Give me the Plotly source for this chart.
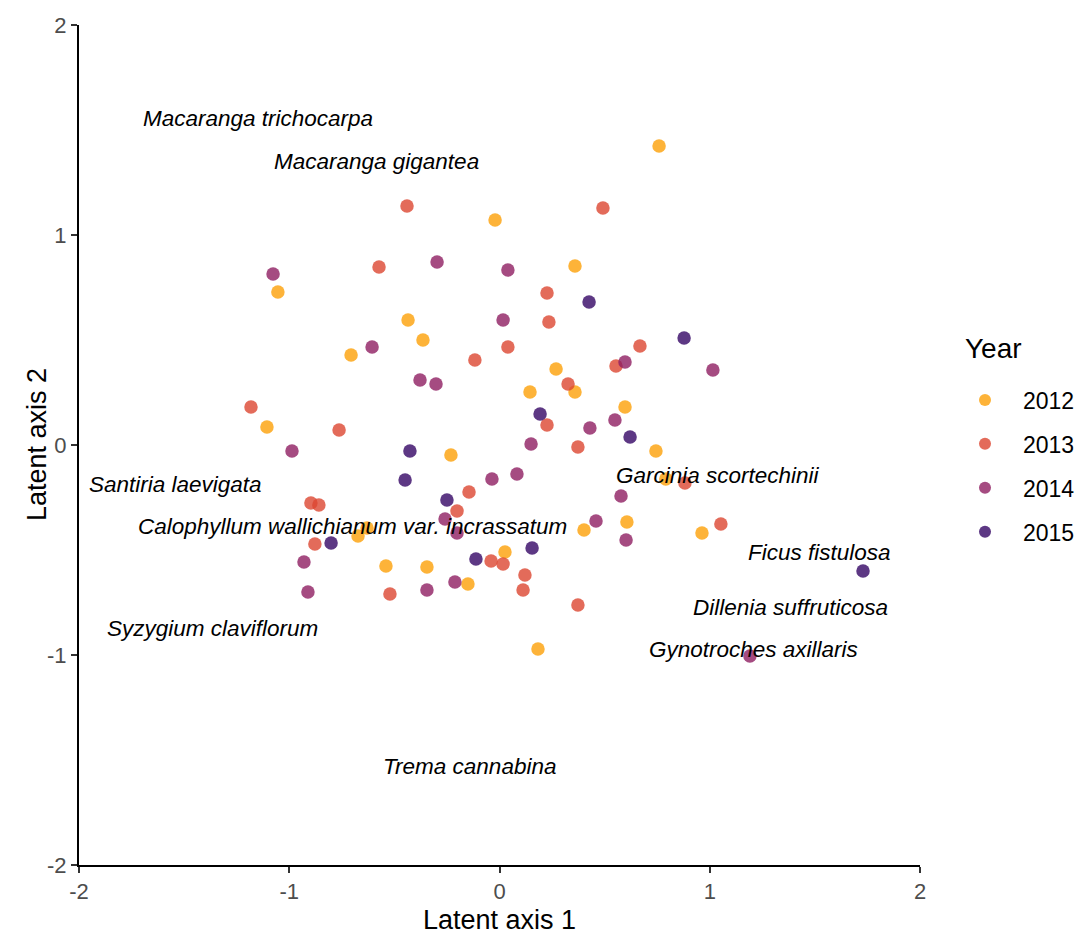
import plotly.graph_objects as go

# ---- data ----
years = ["2012", "2013", "2014", "2015"]

x_2012 = [0.759, -0.021, 0.359, -1.054, -0.435, -0.364, -0.706, 0.269, 0.145, 0.359, 0.597, -1.106, 0.744,
          -0.231, 0.791, -0.630, -0.673, 0.606, 0.402, 0.963, 0.026, -0.540, -0.345, -0.150, 0.183]
y_2012 = [1.424, 1.071, 0.852, 0.729, 0.595, 0.500, 0.429, 0.362, 0.252, 0.252, 0.181, 0.086, -0.029,
          -0.048, -0.162, -0.395, -0.433, -0.367, -0.405, -0.419, -0.510, -0.576, -0.581, -0.662, -0.971]

x_2013 = [-0.440, 0.492, -0.573, 0.226, 0.235, 0.040, 0.668, -0.117, 0.554, 0.326, -1.182, 0.226, -0.763,
          0.373, 0.882, -0.145, -0.202, -0.897, -0.859, -0.878, 1.053, -0.040, 0.017, 0.121, 0.112, -0.521, 0.373]
y_2013 = [1.138, 1.129, 0.848, 0.724, 0.586, 0.467, 0.471, 0.405, 0.376, 0.290, 0.181, 0.095, 0.071,
          -0.010, -0.181, -0.224, -0.314, -0.276, -0.286, -0.471, -0.376, -0.552, -0.567, -0.619, -0.690, -0.710, -0.762]

x_2014 = [-1.077, -0.297, 0.040, 0.017, -0.606, -0.378, -0.302, 0.597, 1.015, 0.549, 0.430, -0.987, 0.150,
          0.083, -0.036, 0.578, -0.259, -0.202, 0.459, 0.602, -0.930, -0.212, -0.345, -0.911, 1.191]
y_2014 = [0.814, 0.871, 0.833, 0.595, 0.467, 0.310, 0.290, 0.395, 0.357, 0.119, 0.081, -0.029, 0.005,
          -0.138, -0.162, -0.243, -0.352, -0.419, -0.362, -0.452, -0.557, -0.652, -0.690, -0.700, -1.005]

x_2015 = [0.426, 0.878, 0.193, 0.621, -0.426, -0.449, -0.250, -0.801, -0.112, 0.155, 1.729]
y_2015 = [0.681, 0.510, 0.148, 0.038, -0.029, -0.167, -0.262, -0.467, -0.543, -0.490, -0.600]

species = ["Macaranga trichocarpa", "Macaranga gigantea", "Santiria laevigata",
           "Calophyllum wallichianum var. incrassatum", "Garcinia scortechinii", "Ficus fistulosa",
           "Dillenia suffruticosa", "Syzygium claviflorum", "Gynotroches axillaris", "Trema cannabina"]
species_x = [-1.148, -0.587, -1.539, -0.698, 1.039, 1.524, 1.386, -1.363, 1.210, -0.143]
species_y = [1.557, 1.352, -0.190, -0.390, -0.143, -0.514, -0.776, -0.876, -0.976, -1.533]

tick_vals = [-2, -1, 0, 1, 2]
tick_text = ["-2", "-1", "0", "1", "2"]

colors = ["#FCA007", "#DC4631", "#8E1E62", "#340665"]
xs = [x_2012, x_2013, x_2014, x_2015]
ys = [y_2012, y_2013, y_2014, y_2015]

FONT = "Liberation Sans, Arial, sans-serif"

fig = go.Figure()
for yr, xv, yv, c in zip(years, xs, ys, colors):
    fig.add_trace(go.Scatter(
        x=xv, y=yv, mode="markers", name=yr, legendgroup=yr,
        marker=dict(color=c, size=13.5, opacity=0.8, line=dict(width=0)),
    ))

for s, sx, sy in zip(species, species_x, species_y):
    fig.add_annotation(x=sx, y=sy, text="<i>" + s + "</i>", showarrow=False,
                       xanchor="center", yanchor="middle",
                       font=dict(family=FONT, size=22.5, color="black"))

# legend title as text
fig.add_annotation(xref="paper", yref="paper", x=1.0511, y=0.6143, text="Year", showarrow=False,
                   xanchor="left", yanchor="middle",
                   font=dict(family=FONT, size=28, color="black"))

# axis titles
fig.add_annotation(xref="paper", yref="paper", x=-0.0499, y=0.5, text="Latent axis 2", showarrow=False,
                   xanchor="center", yanchor="middle", textangle=-90,
                   font=dict(family=FONT, size=27, color="black"))
fig.add_annotation(xref="paper", yref="paper", x=0.5, y=-0.0655, text="Latent axis 1", showarrow=False,
                   xanchor="center", yanchor="middle",
                   font=dict(family=FONT, size=27, color="black"))

axis_common = dict(
    range=[-2, 2], tickvals=tick_vals, ticktext=tick_text,
    showgrid=False, zeroline=False, automargin=False,
    showline=True, linecolor="black", linewidth=2,
    ticks="outside", ticklen=6, tickwidth=1.5, tickcolor="#333333",
    tickfont=dict(family=FONT, size=22, color="#4D4D4D"),
)

fig.update_layout(
    width=1077, height=931,
    paper_bgcolor="white", plot_bgcolor="white",
    margin=dict(l=79, r=157, t=25, b=66),
    font=dict(family=FONT, color="black"),
    xaxis=dict(**axis_common),
    yaxis=dict(**axis_common),
    legend=dict(
        font=dict(family=FONT, size=23, color="black"),
        xref="container", yref="container",
        x=947 / 1077, xanchor="left", y=(931 - 466) / 931, yanchor="middle",
        tracegroupgap=11, itemsizing="constant", itemwidth=66,
        bgcolor="rgba(0,0,0,0)",
    ),
    showlegend=True,
)

fig.write_html("out.html", config={"displayModeBar": False},
               post_script="document.body.style.margin='0px';")
